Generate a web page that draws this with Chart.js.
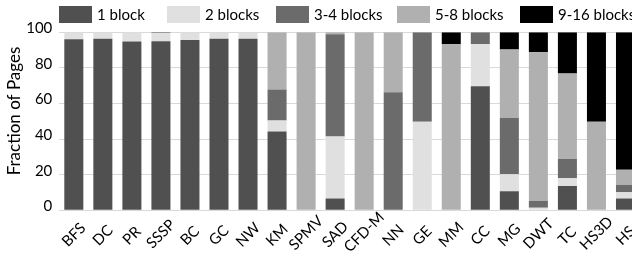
<!DOCTYPE html>
<html>
<head>
<meta charset="utf-8">
<script src="https://cdn.jsdelivr.net/npm/chart.js@4"></script>
<style>
    html, body { margin: 0; padding: 0; background: #fff; overflow: hidden; }
    #wrap { width: 640px; height: 255px; }
</style>
</head>
<body>
<div id="wrap"><canvas id="paginas"></canvas></div>
<script>
const programas = ['BFS', 'DC', 'PR', 'SSSP', 'BC', 'GC', 'NW', 'KM', 'SPMV', 'SAD', 'CFD-M', 'NN', 'GE', 'MM', 'CC', 'MG', 'DWT', 'TC', 'HS3D', 'HS']
const unBloque = [96.1, 96.4, 94.8, 95, 95.7, 96.4, 96.4, 44.2, 0, 6.6, 0, 0, 0, 0, 69.7, 10.7, 0, 13.7, 0, 6.6]
const dosBloques = [3.9, 3.6, 5.2, 4.6, 4.3, 3.6, 3.6, 6.2, 0, 34.8, 0, 0, 49.8, 0, 23.7, 9.5, 1.5, 4.3, 0, 3.5]
const tresCuatro = [0, 0, 0, 0.4, 0, 0, 0, 17.4, 0, 57.5, 0, 66.3, 50.2, 0, 6.6, 31.7, 3.9, 10.8, 0, 4.3]
const cincoOcho = [0, 0, 0, 0, 0, 0, 0, 32.2, 100, 1.1, 100, 33.7, 0, 93.3, 0, 38.5, 83.4, 48, 49.8, 8.4]
const nueveDieciseis = [0, 0, 0, 0, 0, 0, 0, 0, 0, 0, 0, 0, 0, 6.7, 0, 9.6, 11.2, 23.2, 50.2, 77.2]
const ticksY = [0, 20, 40, 60, 80, 100]

const fuente = 'Lato, "Open Sans", sans-serif'

// izquierda de cada cuadro de la leyenda
const leyendaX = [59, 167, 276, 397, 520]

// leyenda, titulo del eje y y etiquetas giradas del eje x, al estilo Excel
const extras = {
    id: 'extras',
    afterDraw(chart) {
        const c = chart.ctx
        c.save()
        c.font = '15px ' + fuente
        c.textBaseline = 'middle'
        c.textAlign = 'left'
        chart.data.datasets.forEach((ds, i) => {
            c.fillStyle = ds.backgroundColor
            c.fillRect(leyendaX[i], 6, 33, 17)
            c.fillStyle = '#000'
            c.fillText(ds.label, leyendaX[i] + 38, 15)
        })

        // etiquetas centradas en cada barra
        const x = chart.scales.x
        c.textAlign = 'center'
        chart.data.labels.forEach((nombre, i) => {
            const w = c.measureText(nombre).width
            c.save()
            c.translate(x.getPixelForTick(i), 238 - 0.12 * w)
            c.rotate(-Math.PI / 4)
            c.fillText(nombre, 0, 0)
            c.restore()
        })

        c.font = '17px ' + fuente
        c.translate(15, 111)
        c.rotate(-Math.PI / 2)
        c.fillText('Fraction of Pages', 0, 0)
        c.restore()
    }
}

const ctx = document.getElementById('paginas').getContext('2d')
const myChart = new Chart(ctx, {
    type: 'bar',
    data: {
        labels: programas,
        datasets: [
            { label: '1 block', data: unBloque, backgroundColor: '#505050' },
            { label: '2 blocks', data: dosBloques, backgroundColor: '#e0e0e0' },
            { label: '3-4 blocks', data: tresCuatro, backgroundColor: '#6b6b6b' },
            { label: '5-8 blocks', data: cincoOcho, backgroundColor: '#b0b0b0' },
            { label: '9-16 blocks', data: nueveDieciseis, backgroundColor: '#000000' }
        ]
    },
    options: {
        responsive: true,
        maintainAspectRatio: false,
        animation: false,
        layout: { padding: { top: 32.3, right: 0, left: 0, bottom: 0 } },
        datasets: {
            bar: { categoryPercentage: 1, barPercentage: 0.655 }
        },
        scales: {
            x: {
                stacked: true,
                grid: { display: false },
                border: { color: '#d9d9d9', width: 1 },
                ticks: { display: false },
                afterFit: (escala) => { escala.height = 44.7 }
            },
            y: {
                stacked: true,
                min: 0,
                max: 100,
                afterBuildTicks: (escala) => { escala.ticks = ticksY.map(v => ({ value: v })) },
                grid: { color: '#d9d9d9', drawTicks: false },
                border: { display: false },
                ticks: {
                    color: '#000',
                    font: { family: fuente, size: 15 },
                    padding: 7,
                    labelOffset: -4
                },
                afterFit: (escala) => { escala.width = 59.3 }
            }
        },
        plugins: {
            legend: { display: false },
            tooltip: { enabled: false }
        }
    },
    plugins: [extras]
})
</script>
</body>
</html>
